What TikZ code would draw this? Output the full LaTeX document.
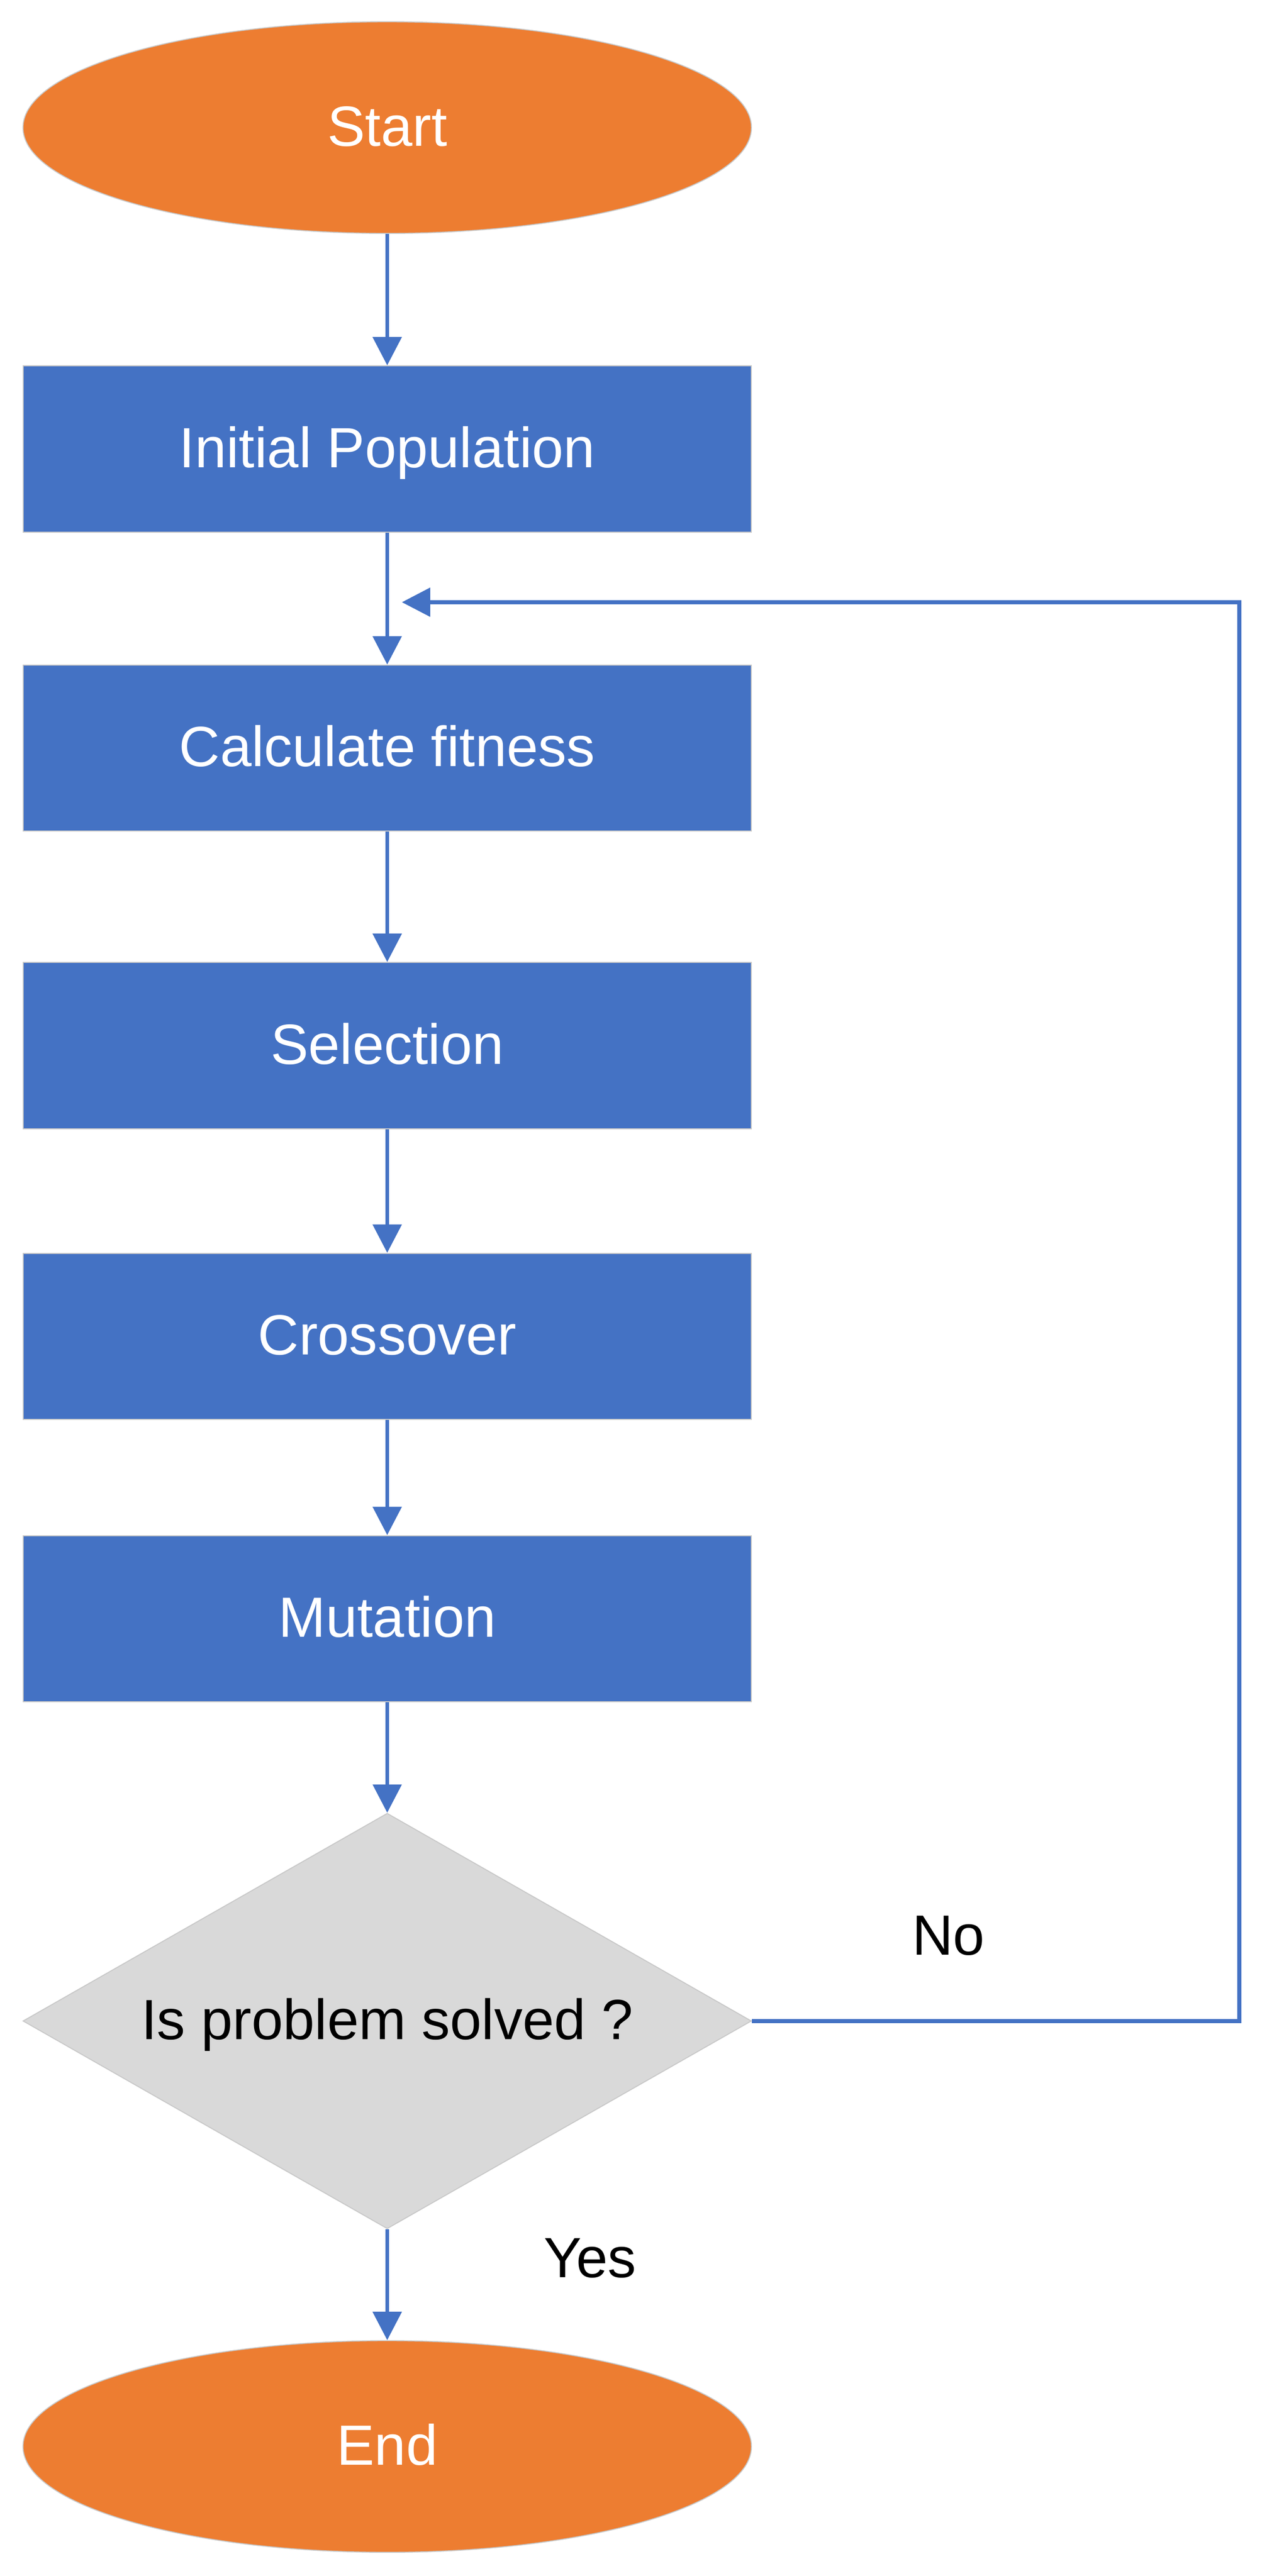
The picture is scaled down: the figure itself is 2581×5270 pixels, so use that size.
\documentclass[tikz,border=0pt]{standalone}
\usepackage{fontspec}
\setmainfont{Liberation Sans}
\usetikzlibrary{shapes.geometric,arrows.meta}
\definecolor{boxblue}{HTML}{4472C4}
\definecolor{termorange}{HTML}{ED7D31}
\definecolor{decgrey}{HTML}{D9D9D9}
\definecolor{edgegrey}{HTML}{C8C8C8}
\tikzset{
  txt/.style={font=\fontsize{29}{34}\selectfont},
  boxtxt/.style={txt, text height=20.75pt, text depth=2pt},
  terminal/.style={ellipse, draw=edgegrey, line width=0.5pt, fill=termorange, text=white, boxtxt,
    minimum width=372.5pt, minimum height=108.25pt, inner sep=0pt},
  process/.style={rectangle, draw=edgegrey, line width=0.5pt, fill=boxblue, text=white, boxtxt,
    minimum width=372.5pt, minimum height=85pt, inner sep=0pt},
  decision/.style={diamond, draw=edgegrey, line width=0.5pt, fill=decgrey, text=black, boxtxt,
    minimum width=372.5pt, minimum height=212.5pt, inner sep=0pt, aspect=1.753},
  label/.style={txt, text=black, inner sep=0pt},
  flow/.style={draw=boxblue, line width=2pt, -{Triangle[length=14.5pt,width=14.5pt]}}
}
\begin{document}
\begin{tikzpicture}[x={(0.25pt,0)}, y={(0,-0.25pt)}]
\useasboundingbox (0,0) rectangle (2581,5270);
\node[terminal] (start) at (792,261) {Start};
\node[process] (init) at (792,918.5) {Initial Population};
\node[process] (fit) at (792,1530.5) {Calculate fitness};
\node[process] (sel) at (792,2139) {Selection};
\node[process] (cross) at (792,2734) {Crossover};
\node[process] (mut) at (792,3311.5) {Mutation};
\node[decision] (dec) at (792,4134.5) {Is problem solved ?};
\node[terminal] (end) at (792,5005) {End};
\node[label] (no) at (1940,3960) {No};
\node[label] (yes) at (1207,4620) {Yes};
\coordinate (loopR) at (2535,4134.5);
\coordinate (loopT) at (2535,1232);
\coordinate (loopTip) at (822,1232);
\draw[flow] (start) -- (init);
\draw[flow] (init) -- (fit);
\draw[flow] (fit) -- (sel);
\draw[flow] (sel) -- (cross);
\draw[flow] (cross) -- (mut);
\draw[flow] (mut) -- (dec.north);
\draw[flow] (dec.south) -- (end);
\draw[flow, line join=miter] (dec.east) -- (loopR) -- (loopT) -- (loopTip);
\end{tikzpicture}
\end{document}
